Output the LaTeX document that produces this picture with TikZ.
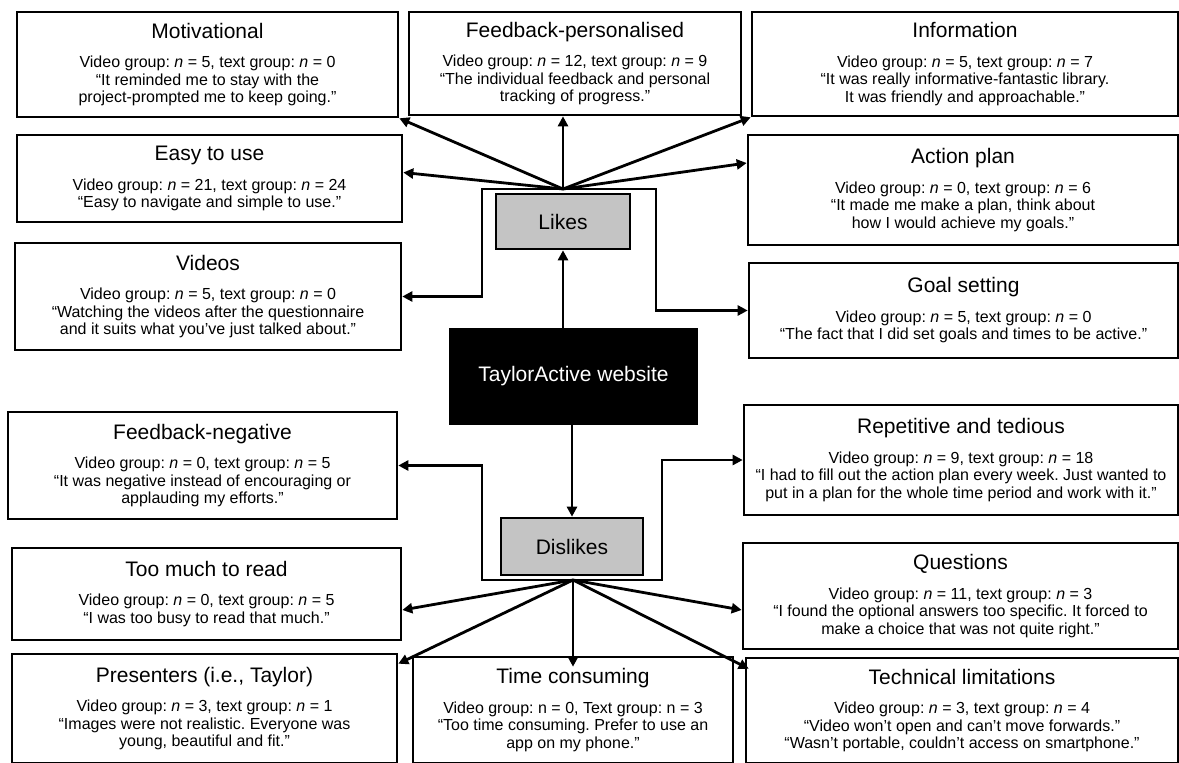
\documentclass[tikz,border=0pt]{standalone}
\usepackage{fontspec}
\setmainfont{Liberation Sans}
\usetikzlibrary{arrows.meta}
\frenchspacing

\definecolor{hubgray}{RGB}{196,196,196}
\newcommand{\ttl}[1]{{\fontsize{21}{24}\selectfont #1}\\[12pt]}

\tikzset{
  theme/.style={draw, line width=2.6pt, align=center, inner sep=0pt, font=\fontsize{16}{17.5}\selectfont},
  hub/.style={draw, line width=2.6pt, fill=hubgray, inner sep=0pt, font=\fontsize{21}{24}\selectfont},
  arr/.style={draw, line width=2.8pt, -{Triangle[length=10pt,width=10pt]}}
}

\begin{document}
\begin{tikzpicture}[x=1pt, y=-1pt]
\useasboundingbox (0,0) rectangle (1179,763);

\node[theme, minimum width=381pt, minimum height=105pt] (motiv) at (207.5,64.5) {\ttl{Motivational}Video group: \textit{n} = 5, text group: \textit{n} = 0\\“It reminded me to stay with the\\project-prompted me to keep going.”};
\node[theme, minimum width=332pt, minimum height=103pt] (fbpers) at (575,63.5) {\ttl{Feedback-personalised}Video group: \textit{n} = 12, text group: \textit{n} = 9\\“The individual feedback and personal\\tracking of progress.”};
\node[theme, minimum width=426pt, minimum height=104pt] (info) at (965,64) {\ttl{Information}Video group: \textit{n} = 5, text group: \textit{n} = 7\\“It was really informative-fantastic library.\\It was friendly and approachable.”};
\node[theme, minimum width=385pt, minimum height=87pt] (easy) at (209.5,178.5) {\ttl{Easy to use}Video group: \textit{n} = 21, text group: \textit{n} = 24\\“Easy to navigate and simple to use.”};
\node[theme, minimum width=430pt, minimum height=110pt] (action) at (963,190) {\ttl{Action plan}Video group: \textit{n} = 0, text group: \textit{n} = 6\\“It made me make a plan, think about\\how I would achieve my goals.”};
\node[theme, minimum width=386pt, minimum height=107pt] (videos) at (208,296.5) {\ttl{Videos}Video group: \textit{n} = 5, text group: \textit{n} = 0\\“Watching the videos after the questionnaire\\and it suits what you’ve just talked about.”};
\node[theme, minimum width=429pt, minimum height=95pt] (goal) at (963.5,310.5) {\ttl{Goal setting}Video group: \textit{n} = 5, text group: \textit{n} = 0\\“The fact that I did set goals and times to be active.”};

\node[hub, minimum width=134pt, minimum height=55pt] (likes) at (563,221.5) {Likes};
\node[hub, fill=black, text=white, minimum width=247pt, minimum height=95pt] (web) at (573.5,376.5) {TaylorActive website};
\node[hub, minimum width=142pt, minimum height=57pt] (dislikes) at (572,546.5) {Dislikes};

\node[theme, minimum width=389pt, minimum height=107pt] (fbneg) at (202.5,465.5) {\ttl{Feedback-negative}Video group: \textit{n} = 0, text group: \textit{n} = 5\\“It was negative instead of encouraging or\\applauding my efforts.”};
\node[theme, minimum width=434pt, minimum height=110pt] (repet) at (961,460) {\ttl{Repetitive and tedious}Video group: \textit{n} = 9, text group: \textit{n} = 18\\“I had to fill out the action plan every week. Just wanted to\\put in a plan for the whole time period and work with it.”};
\node[theme, minimum width=389pt, minimum height=92pt] (toomuch) at (206.5,594) {\ttl{Too much to read}Video group: \textit{n} = 0, text group: \textit{n} = 5\\“I was too busy to read that much.”};
\node[theme, minimum width=435pt, minimum height=106pt] (questions) at (960.5,596) {\ttl{Questions}Video group: \textit{n} = 11, text group: \textit{n} = 3\\“I found the optional answers too specific. It forced to\\make a choice that was not quite right.”};
\node[theme, minimum width=385pt, minimum height=109pt] (present) at (204.5,708.5) {\ttl{Presenters (i.e., Taylor)}Video group: \textit{n} = 3, text group: \textit{n} = 1\\“Images were not realistic. Everyone was\\young, beautiful and fit.”};
\node[theme, minimum width=320pt, minimum height=106pt] (time) at (573,710) {\ttl{Time consuming}Video group: n = 0, Text group: n = 3\\“Too time consuming. Prefer to use an\\app on my phone.”};
\node[theme, minimum width=432pt, minimum height=105pt] (tech) at (962,710.5) {\ttl{Technical limitations}Video group: \textit{n} = 3, text group: \textit{n} = 4\\“Video won’t open and can’t move forwards.”\\“Wasn’t portable, couldn’t access on smartphone.”};

\coordinate (likesTop) at (563,189);
\coordinate (likesL) at (482,189);
\coordinate (likesR) at (656,189);
\coordinate (disBot) at (573,580);
\coordinate (disL) at (482,580);
\coordinate (disR) at (662,580);

\path[arr] (likes.south |- web.north) -- (likes.south);
\path[arr] (likesTop) -- (motiv.south east);
\path[arr] (likesTop) -- (likesTop |- fbpers.south);
\path[arr] (likesTop) -- (info.south west);
\path[arr] (likesTop) -- ([yshift=6pt]easy.east);
\path[arr] (likesTop) -- ([yshift=27pt]action.west);
\path[arr] (likesTop) -- (likesL) |- (videos.east);
\path[arr] (likesTop) -- (likesR) |- (goal.west);

\path[arr] (dislikes.north |- web.south) -- (dislikes.north);
\path[arr] (disBot) -- (disL) |- (fbneg.east);
\path[arr] (disBot) -- (disR) |- (repet.west);
\path[arr] (disBot) -- ([yshift=-16pt]toomuch.east);
\path[arr] (disBot) -- ([yshift=-11pt]present.north east);
\path[arr] (disBot) -- ([yshift=-11pt]time.north);
\path[arr] (disBot) -- ([yshift=-14pt]questions.west);
\path[arr] (disBot) -- ([xshift=4pt,yshift=-12pt]tech.north west);
\end{tikzpicture}
\end{document}
